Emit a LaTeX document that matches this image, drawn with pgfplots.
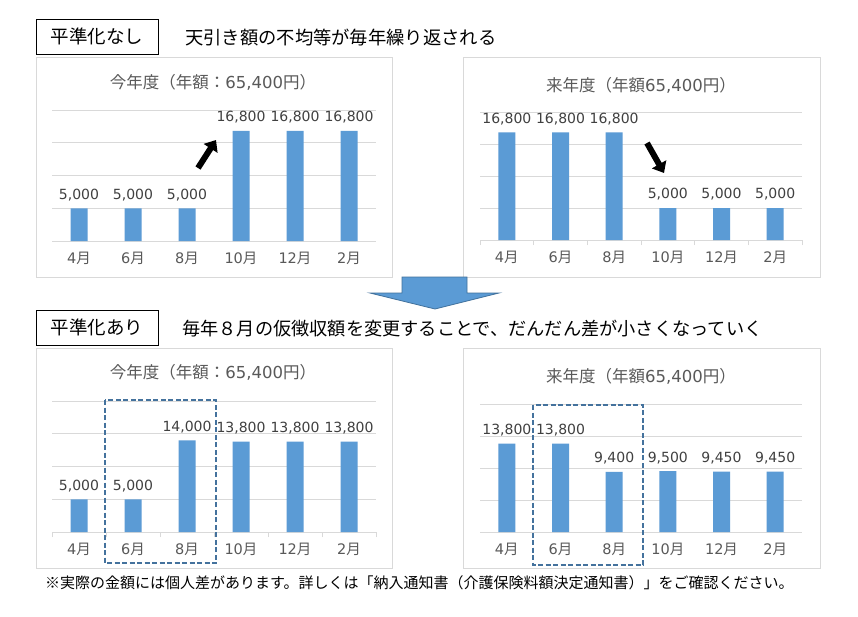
\documentclass[border=0pt]{standalone}
\usepackage{fontspec}
\setmainfont{Noto Sans CJK JP}
\newfontfamily\dv{DejaVu Sans}
\usepackage{pgfplots}
\pgfplotsset{compat=1.18}
\usetikzlibrary{arrows.meta}
\definecolor{barblue}{HTML}{5B9BD5}
\definecolor{barborder}{HTML}{41719C}
\definecolor{gridgray}{HTML}{D9D9D9}
\definecolor{txtgray}{HTML}{595959}
\definecolor{lblgray}{HTML}{404040}
\definecolor{dashblue}{HTML}{44729D}
\pgfplotsset{
  panel/.style={
    scale only axis,
    anchor=south west,
    clip=false,
    ybar, bar width=17pt,
    ymin=0, ymax=20000,
    ytick={0,5000,10000,15000,20000},
    yticklabels={},
    scaled y ticks=false,
    ymajorgrids,
    grid style={gridgray, line width=1pt},
    xmin=-0.5, xmax=5.5,
    xtick={0,...,5},
    xticklabels={{{\dv 4}月},{{\dv 6}月},{{\dv 8}月},{{\dv 10}月},{{\dv 12}月},{{\dv 2}月}},
    axis line style={draw=none},
    major tick length=0pt,
    minor tick length=5pt,
    tick align=outside,
    tick pos=left,
    tick style={gridgray, line width=1pt},
    minor x tick style={gridgray, line width=1pt},
    xticklabel style={font=\fontsize{14.5}{15}\selectfont, text=txtgray, yshift=-8pt},
    /pgf/number format/assume math mode=true,
    /pgf/number format/1000 sep={,},
    nodes near coords,
    every node near coord/.append style={font={\fontsize{14}{14}\dv}, text=lblgray, yshift=4pt},
  },
  ticked/.style={minor xtick={-0.5,0.5,...,5.5}},
}
\begin{document}
\begin{tikzpicture}
\begin{scope}[x=1pt,y=-1pt]
\path[use as bounding box, fill=white] (0,0) rectangle (858,616);
\draw[gridgray, line width=1pt] (36,57) rectangle (392,277);
\draw[gridgray, line width=1pt] (463,57) rectangle (820,277);
\draw[gridgray, line width=1pt] (36,348) rectangle (392,568);
\draw[gridgray, line width=1pt] (463,348) rectangle (820,568);
\end{scope}

% Panel 1
\begin{axis}[panel, width=324pt, height=131pt, at={(52pt,-241pt)}]
\addplot[fill=barblue, draw=none] coordinates {(0,5000) (1,5000) (2,5000) (3,16800) (4,16800) (5,16800)};
\end{axis}
% Panel 2
\begin{axis}[panel, ticked, width=322pt, height=128pt, at={(480pt,-240pt)}]
\addplot[fill=barblue, draw=none] coordinates {(0,16800) (1,16800) (2,16800) (3,5000) (4,5000) (5,5000)};
\end{axis}
% Panel 3
\begin{axis}[panel, ticked, width=324pt, height=131pt, at={(52pt,-532pt)}]
\addplot[fill=barblue, draw=none] coordinates {(0,5000) (1,5000) (2,14000) (3,13800) (4,13800) (5,13800)};
\end{axis}
% Panel 4
\begin{axis}[panel, width=322pt, height=128pt, at={(480pt,-532pt)}]
\addplot[fill=barblue, draw=none] coordinates {(0,13800) (1,13800) (2,9400) (3,9500) (4,9450) (5,9450)};
\end{axis}

\begin{scope}[x=1pt,y=-1pt]
% header boxes
\draw[black, line width=1pt] (36,19) rectangle (158,54);
\node[font=\fontsize{18.5}{19}\selectfont, inner sep=0] at (97,36.5) {平準化なし};
\draw[black, line width=1pt] (36,310) rectangle (158,345);
\node[font=\fontsize{18.5}{19}\selectfont, inner sep=0] at (97,327.5) {平準化あり};
\node[font=\fontsize{18.3}{19}\selectfont, inner sep=0, anchor=west] at (185,38) {天引き額の不均等が毎年繰り返される};
\node[font=\fontsize{18.2}{19}\selectfont, inner sep=0, anchor=west] at (182,329) {毎年８月の仮徴収額を変更することで、だんだん差が小さくなっていく};
% panel titles
\node[font=\fontsize{16.5}{17}\selectfont, text=txtgray, inner sep=0] at (213,82) {今年度（年額：{\dv 65,400}円）};
\node[font=\fontsize{16.5}{17}\selectfont, text=txtgray, inner sep=0] at (641,85) {来年度（年額{\dv 65,400}円）};
\node[font=\fontsize{16.5}{17}\selectfont, text=txtgray, inner sep=0] at (213,372) {今年度（年額：{\dv 65,400}円）};
\node[font=\fontsize{16.5}{17}\selectfont, text=txtgray, inner sep=0] at (641,376) {来年度（年額{\dv 65,400}円）};
% black arrows
\draw[black, line width=6pt, -{Triangle[length=10pt,width=16pt]}] (198,168) -- (216,140);
\draw[black, line width=6pt, -{Triangle[length=10pt,width=16pt]}] (647,143) -- (664,173);
% big blue arrow
\draw[fill=barblue, draw=barborder, line width=0.8pt] (402,277) -- (467,277) -- (467,293) -- (499,293) -- (435,309) -- (370,293) -- (402,293) -- cycle;
% dashed boxes
\draw[dashblue, line width=2pt, dash pattern=on 5pt off 2.5pt] (105,400) rectangle (216,563);
\draw[dashblue, line width=2pt, dash pattern=on 5pt off 2.5pt] (533,405) rectangle (643,565);
% footnote
\node[font=\fontsize{15}{15}\selectfont, inner sep=0, anchor=west] at (45,583) {※実際の金額には個人差があります。詳しくは「納入通知書（介護保険料額決定通知書）」をご確認ください。};
\end{scope}
\end{tikzpicture}
\end{document}
